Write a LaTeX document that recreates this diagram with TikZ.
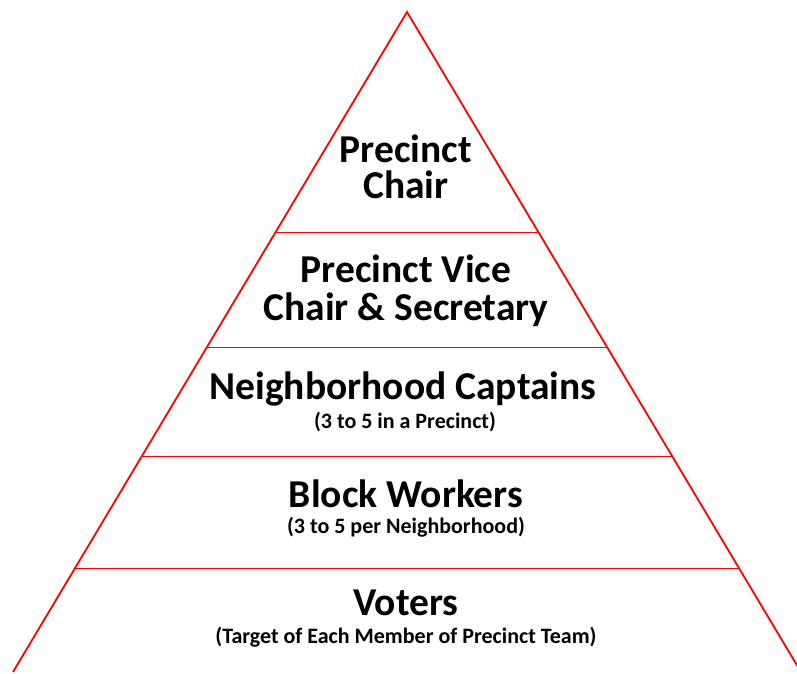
\documentclass[tikz,border=0pt]{standalone}
\usepackage{fontspec}
\setmainfont{Carlito}
\usetikzlibrary{calc}

\tikzset{
    tier/.style={font=\bfseries\fontsize{39.5}{42}\selectfont, anchor=base, inner sep=0pt},
    note/.style={font=\bfseries\fontsize{22}{24}\selectfont, anchor=base, inner sep=0pt},
    side/.style={red, line width=1.8pt, line join=miter},
    cut/.style={red, line width=1pt}
}

\begin{document}
\begin{tikzpicture}[x=1pt,y=-1pt]
    \useasboundingbox (0,0) rectangle (797,673);

    \coordinate (apex) at (407,12);
    \coordinate (left) at (13,672);
    \coordinate (right) at (801,672);

    % outline of the pyramid
    \draw[side] (left) -- (apex) -- (right);

    % levels
    \foreach \y/\n in {232/a,347/b,456/c,568/d}{
        \coordinate (l\n) at ($(apex)!{(\y-12)/660}!(left)$);
        \coordinate (r\n) at ($(apex)!{(\y-12)/660}!(right)$);
        \draw[cut] (l\n) -- (r\n);
    }

    \node[tier] (chair1) at (406,162) {Precinct};
    \node[tier] (chair2) at (406,198) {Chair};
    \node[tier] (vice1) at (406,282) {Precinct Vice};
    \node[tier] (vice2) at (406,320) {Chair \& Secretary};
    \node[tier] (capt) at (403,399) {Neighborhood Captains};
    \node[note] (captnote) at (405,428) {(3 to 5 in a Precinct)};
    \node[tier] (block) at (406,507) {Block Workers};
    \node[note] (blocknote) at (406,533) {(3 to 5 per Neighborhood)};
    \node[tier] (voters) at (406,615) {Voters};
    \node[note] (votersnote) at (406,643) {(Target of Each Member of Precinct Team)};

\end{tikzpicture}
\end{document}
